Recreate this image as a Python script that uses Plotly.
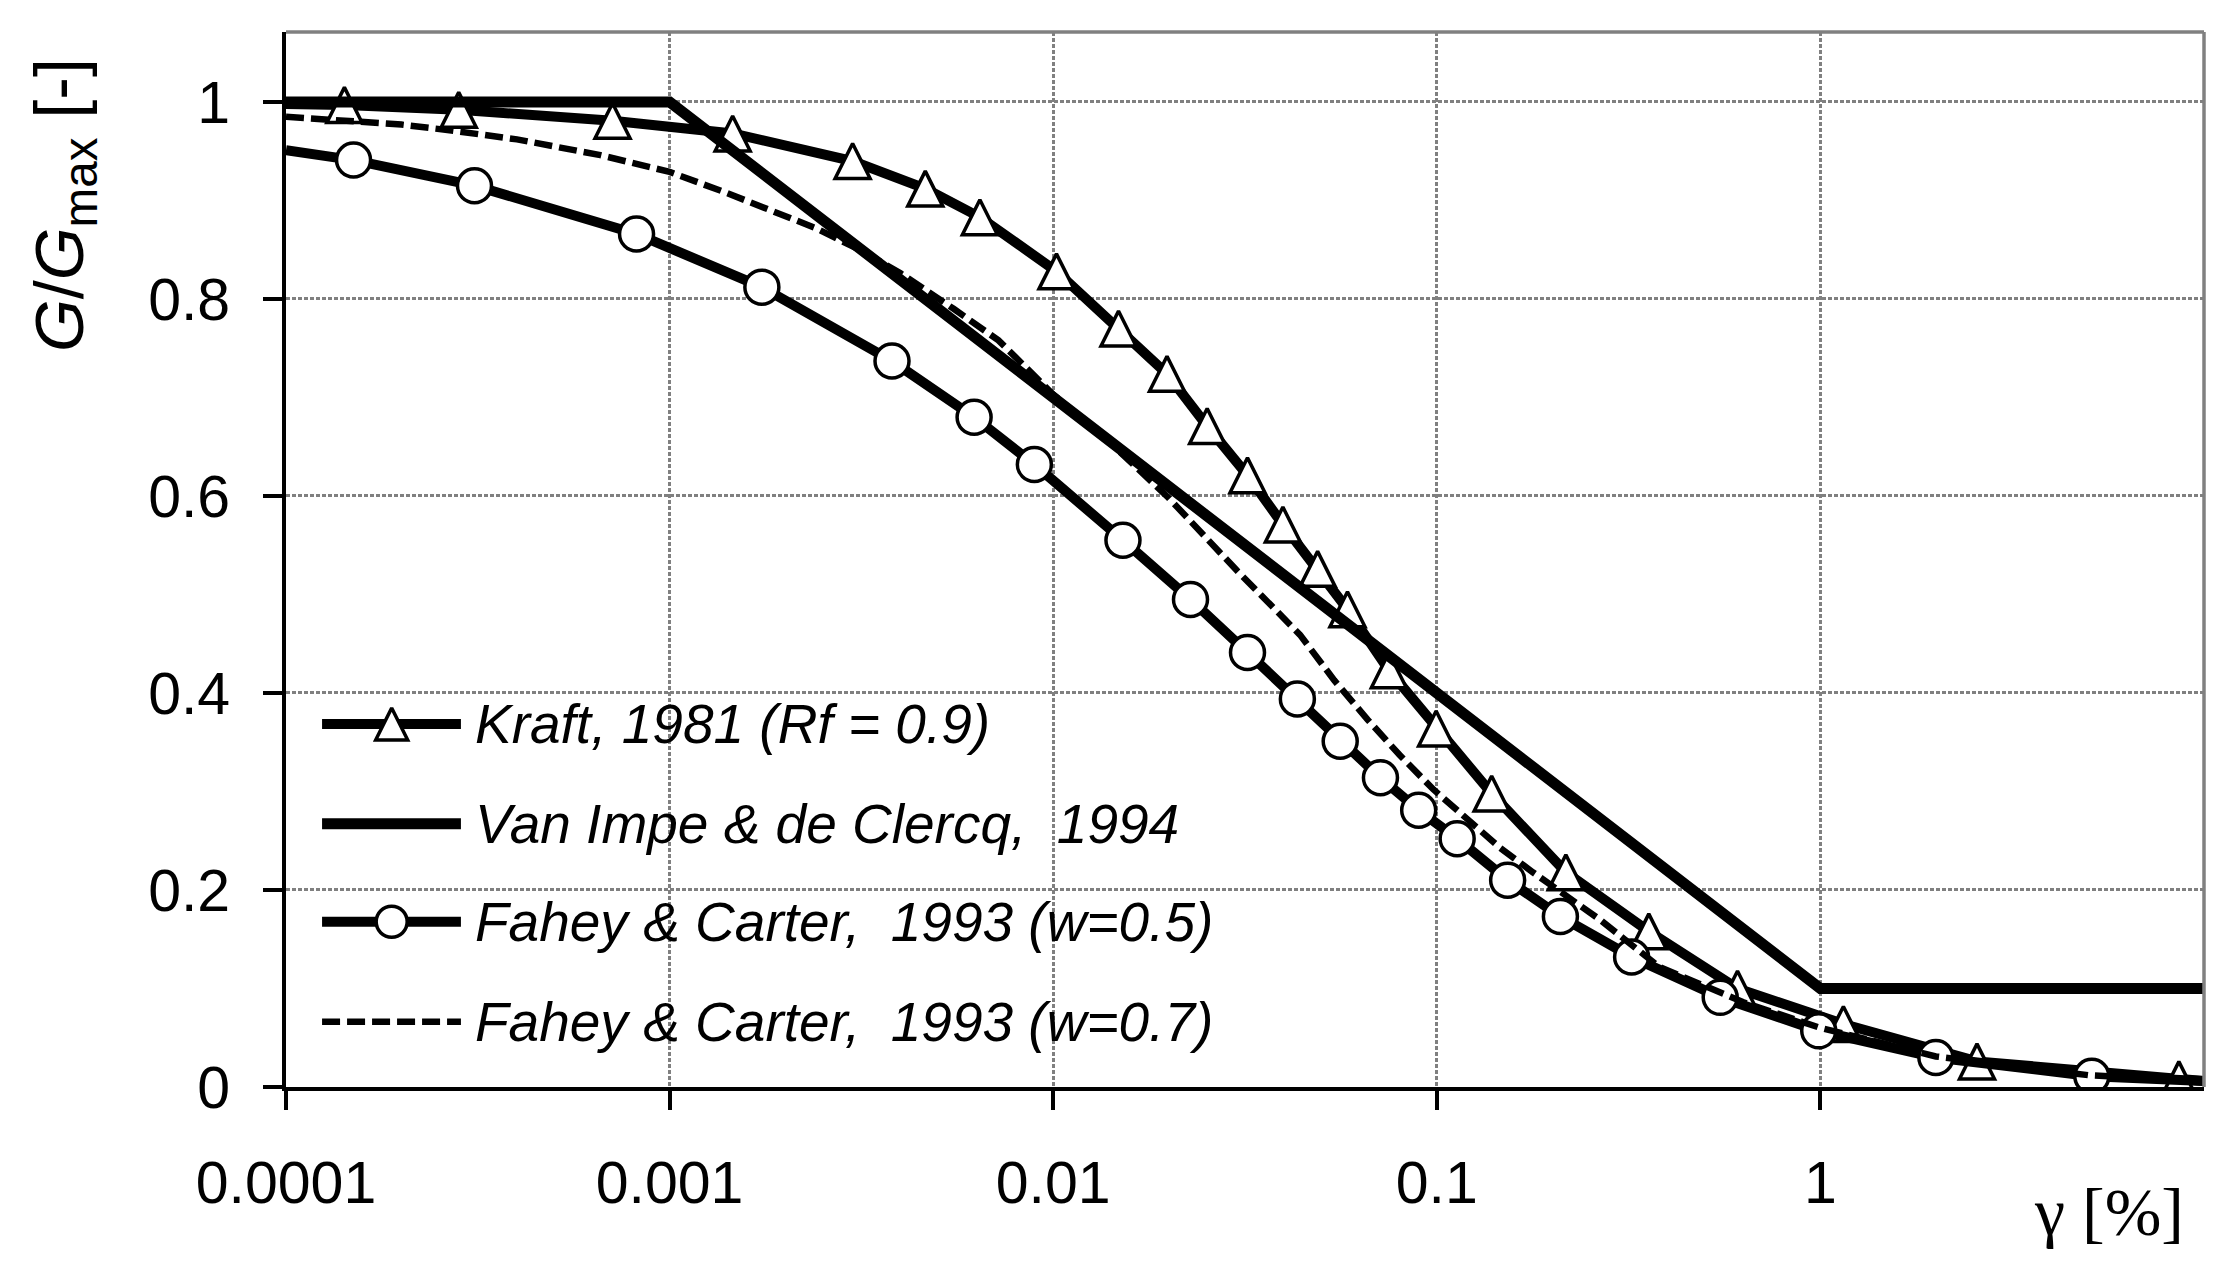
import plotly.graph_objects as go

# ---------------- data ----------------
# Kraft, 1981 (Rf = 0.9) - markers
kraft_x = [1.42e-4, 2.82e-4, 7.1e-4, 1.46e-3, 3.0e-3, 4.64e-3, 6.44e-3, 0.0102, 0.0148,
           0.0198, 0.0252, 0.0321, 0.0397, 0.0489, 0.0585, 0.075, 0.0996, 0.139, 0.217,
           0.357, 0.608, 1.148, 2.56, 8.6]
kraft_y = [0.997, 0.992, 0.981, 0.968, 0.940, 0.912, 0.883, 0.828, 0.770,
           0.724, 0.671, 0.621, 0.571, 0.526, 0.485, 0.423, 0.364, 0.298, 0.218,
           0.158, 0.100, 0.064, 0.026, 0.008]
kraft_end_x = [1e-4, 10]
kraft_end_y = [0.998, 0.006]

# Van Impe & de Clercq, 1994
vanimpe_x = [1e-4, 1e-3, 1.0, 10]
vanimpe_y = [1.0, 1.0, 0.1, 0.1]

# Fahey & Carter, 1993 (w=0.5) - markers
fahey05_x = [1.50e-4, 3.10e-4, 8.2e-4, 1.74e-3, 3.8e-3, 6.22e-3, 8.93e-3, 0.0152, 0.0228,
             0.0321, 0.0433, 0.056, 0.0713, 0.0897, 0.113, 0.153, 0.210, 0.322, 0.548,
             0.99, 2.0, 5.1]
fahey05_y = [0.941, 0.915, 0.866, 0.812, 0.737, 0.680, 0.632, 0.555, 0.495,
             0.441, 0.394, 0.351, 0.314, 0.281, 0.252, 0.210, 0.173, 0.132, 0.091,
             0.057, 0.030, 0.011]
fahey05_end_x = [1e-4, 10]
fahey05_end_y = [0.951, 0.006]

# Fahey & Carter, 1993 (w=0.7)
fahey07_x = [1e-4, 2e-4, 2.7e-4, 4e-4, 6.6e-4, 1e-3, 1.4e-3, 1.8e-3, 2.4e-3, 3.2e-3,
             4e-3, 5.5e-3, 7.2e-3, 0.01, 0.014, 0.02, 0.03, 0.044, 0.054, 0.066,
             0.080, 0.098, 0.12, 0.146, 0.178, 0.266, 0.38, 0.63, 1.0, 2.0, 5.0, 10]
fahey07_y = [0.985, 0.977, 0.971, 0.962, 0.946, 0.929, 0.908, 0.892, 0.872, 0.848,
             0.826, 0.790, 0.758, 0.703, 0.655, 0.598, 0.525, 0.459, 0.413, 0.373,
             0.337, 0.302, 0.271, 0.243, 0.218, 0.170, 0.122, 0.086, 0.060, 0.031, 0.012, 0.006]

x_tickvals = [1e-4, 1e-3, 1e-2, 1e-1, 1]
x_ticktext = ["0.0001", "0.001", "0.01", "0.1", "1"]
y_tickvals = [0, 0.2, 0.4, 0.6, 0.8, 1.0]
y_ticktext = ["0", "0.2", "0.4", "0.6", "0.8", "1"]

legend_labels = ["Kraft, 1981 (Rf = 0.9)",
                 "Van Impe & de Clercq,\u00a0 1994",
                 "Fahey & Carter,\u00a0 1993 (w=0.5)",
                 "Fahey & Carter,\u00a0 1993 (w=0.7)"]

# ---------------- styles ----------------
SANS = "Liberation Sans, Arial, sans-serif"
SERIF = "Liberation Serif, Times New Roman, serif"
GRID = "#808080"
TRI = dict(symbol="arrow-down", angle=180, size=35, standoff=17.5, color="white",
           line=dict(color="black", width=3.5))
CIRC = dict(symbol="circle", size=34, color="white", line=dict(color="black", width=3.5))
KRAFT_LINE = dict(color="black", width=10)
VAN_LINE = dict(color="black", width=11)
F05_LINE = dict(color="black", width=10)
F07_LINE = dict(color="black", width=6.5, dash="18px,7px")

fig = go.Figure()
skip = dict(hoverinfo="skip", showlegend=False)

fig.add_trace(go.Scatter(x=[kraft_end_x[0]] + kraft_x + [kraft_end_x[1]],
                         y=[kraft_end_y[0]] + kraft_y + [kraft_end_y[1]],
                         mode="lines", line=KRAFT_LINE, **skip))
fig.add_trace(go.Scatter(x=kraft_x, y=kraft_y, mode="markers", marker=TRI, **skip))
fig.add_trace(go.Scatter(x=vanimpe_x, y=vanimpe_y, mode="lines", line=VAN_LINE, **skip))
fig.add_trace(go.Scatter(x=[fahey05_end_x[0]] + fahey05_x + [fahey05_end_x[1]],
                         y=[fahey05_end_y[0]] + fahey05_y + [fahey05_end_y[1]],
                         mode="lines", line=F05_LINE, **skip))
fig.add_trace(go.Scatter(x=fahey05_x, y=fahey05_y, mode="markers", marker=CIRC, **skip))
fig.add_trace(go.Scatter(x=fahey07_x, y=fahey07_y, mode="lines", line=F07_LINE, **skip))

# ---------------- custom legend (overlay axes in plot-fraction units) ----------------
LEG_ROWS = [0.344, 0.2495, 0.1566, 0.0618]
LEG_X0, LEG_X1, LEG_XM, LEG_XT = 0.0188, 0.0912, 0.0551, 0.0975
leg_lines = [KRAFT_LINE, VAN_LINE, F05_LINE, F07_LINE]
leg_markers = [dict(TRI, size=32, standoff=16), None, dict(CIRC, size=31), None]
for row, ln, mk, lab in zip(LEG_ROWS, leg_lines, leg_markers, legend_labels):
    fig.add_trace(go.Scatter(x=[LEG_X0, LEG_X1], y=[row, row], mode="lines", line=ln,
                             xaxis="x3", yaxis="y3", **skip))
    if mk is not None:
        fig.add_trace(go.Scatter(x=[LEG_XM], y=[row], mode="markers", marker=mk,
                                 xaxis="x3", yaxis="y3", **skip))
    fig.add_annotation(x=LEG_XT, y=row, xref="paper", yref="paper", text="<i>%s</i>" % lab,
                       showarrow=False, xanchor="left", yanchor="middle",
                       font=dict(family=SANS, size=55, color="black"))

# page body has an 8px margin: figure is 8px smaller so the plot area lands where it should
W, H = 2232, 1262
ML, MR, MT, MB = 278, 36, 24, 183

fig.update_layout(
    width=W, height=H, autosize=False,
    margin=dict(l=ML, r=MR, t=MT, b=MB, pad=0),
    paper_bgcolor="white", plot_bgcolor="white",
    showlegend=False,
    font=dict(family=SANS, color="black"),
    xaxis=dict(type="log", range=[-4, 1], tickvals=x_tickvals, ticktext=x_ticktext,
               ticks="outside", ticklen=19, tickwidth=4, tickcolor="black",
               showline=True, linecolor="black", linewidth=4,
               showgrid=True, gridcolor=GRID, gridwidth=3, griddash="4px,2px",
               zeroline=False, tickfont=dict(family=SANS, size=59, color="black"),
               ticklabelstandoff=22),
    xaxis2=dict(type="log", range=[-4, 1], overlaying="x", anchor="y", side="bottom",
                tickvals=x_tickvals, ticks="inside", ticklen=19, tickwidth=4,
                tickcolor="black", showticklabels=False, showgrid=False,
                showline=False, zeroline=False),
    yaxis=dict(range=[0, 1.071], tickvals=y_tickvals, ticktext=y_ticktext,
               ticks="outside", ticklen=19, tickwidth=4, tickcolor="black",
               showline=True, linecolor="black", linewidth=4,
               showgrid=True, gridcolor=GRID, gridwidth=3, griddash="4px,2px",
               zeroline=False, tickfont=dict(family=SANS, size=59, color="black"),
               ticklabelstandoff=21),
    xaxis3=dict(range=[0, 1], overlaying="x", anchor="y3", visible=False),
    yaxis3=dict(range=[0, 1], overlaying="y", anchor="x3", visible=False),
    shapes=[
        dict(type="rect", xref="paper", yref="paper", x0=0, x1=0.505, y0=0, y1=0.3953,
             fillcolor="white", line=dict(width=0), layer="between"),
        dict(type="line", xref="paper", yref="paper", x0=0, x1=1, y0=1, y1=1,
             line=dict(color=GRID, width=3.5), layer="above"),
        dict(type="line", xref="paper", yref="paper", x0=1, x1=1, y0=0, y1=1,
             line=dict(color=GRID, width=3.5), layer="above"),
    ],
)

# axis titles
fig.add_annotation(x=-0.1157, y=0.836, xref="paper", yref="paper",
                   text="<i>G</i>/<i>G</i><sub>max</sub> [-]", textangle=-90,
                   showarrow=False, xanchor="center", yanchor="middle",
                   font=dict(family=SANS, size=68, color="black"))
fig.add_annotation(x=0.9906, y=-0.1185, xref="paper", yref="paper",
                   text="\u03b3 [%]", showarrow=False, xanchor="right", yanchor="middle",
                   font=dict(family=SERIF, size=68, color="black"))

fig.write_html("out.html")
